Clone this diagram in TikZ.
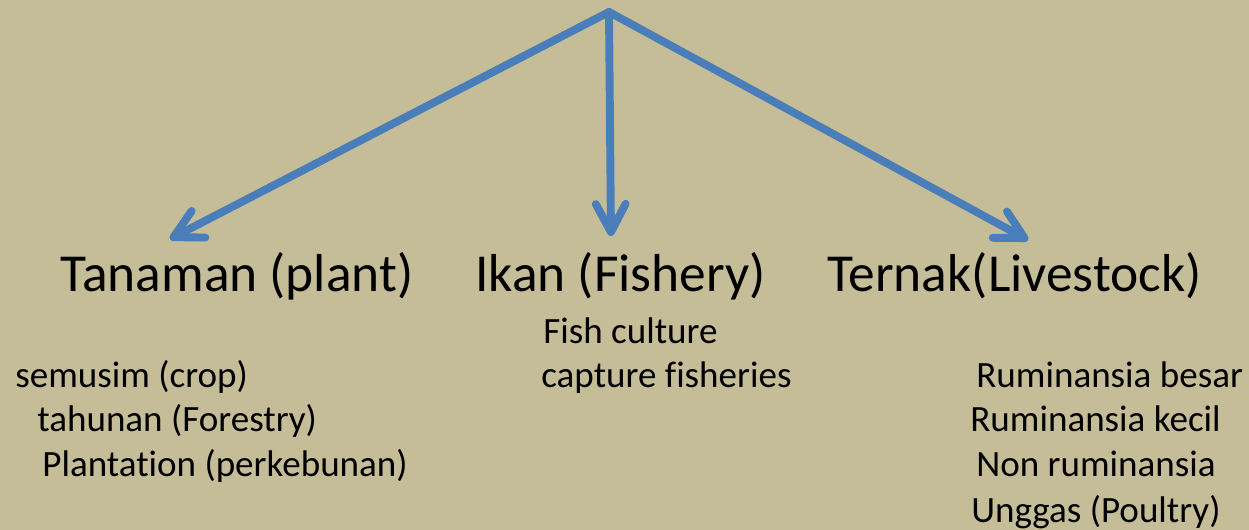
\documentclass[tikz,border=0pt]{standalone}
\usepackage{fontspec}
\setmainfont[Ligatures=NoCommon]{Carlito}
\usetikzlibrary{arrows.meta}
\definecolor{slidetan}{RGB}{196,189,151}
\definecolor{arrowblue}{RGB}{74,126,187}

\begin{document}
\begin{tikzpicture}[x=0.02cm,y=-0.02cm,
  >={Straight Barb[length=16pt,width=17pt,line cap=round,line join=round]},
  branch/.style={anchor=base west,inner sep=0pt,font=\fontsize{30.4}{36}\selectfont},
  item/.style={anchor=base west,inner sep=0pt,font=\fontsize{21.1}{25}\selectfont},
  link/.style={->,draw=arrowblue,line width=4.5pt,line cap=round}]
\fill[slidetan] (0,0) rectangle (1249,530);
\coordinate (top) at (609,12);
\coordinate (plant tip) at (170,239);
\coordinate (fish tip) at (611,236);
\coordinate (stock tip) at (1028,240);
\node[branch] (plant) at (60,292) {Tanaman (plant)};
\node[branch] (fishery) at (475,292) {Ikan (Fishery)};
\node[branch] (livestock) at (827,292) {Ternak(Livestock)};
\node[item] (crop) at (15,388) {semusim (crop)};
\node[item] (forestry) at (37,432) {tahunan (Forestry)};
\node[item] (plantation) at (42,477) {Plantation (perkebunan)};
\node[item] (culture) at (543,344) {Fish culture};
\node[item] (capture) at (541,388) {capture fisheries};
\node[item] (besar) at (976,388) {Ruminansia besar};
\node[item] (kecil) at (970,432) {Ruminansia kecil};
\node[item] (nonrum) at (976,477) {Non ruminansia};
\node[item] (poultry) at (971,522) {Unggas (Poultry)};
\draw[link] (top) -- (plant tip);
\draw[link] (top) -- (fish tip);
\draw[link] (top) -- (stock tip);
\end{tikzpicture}
\end{document}
